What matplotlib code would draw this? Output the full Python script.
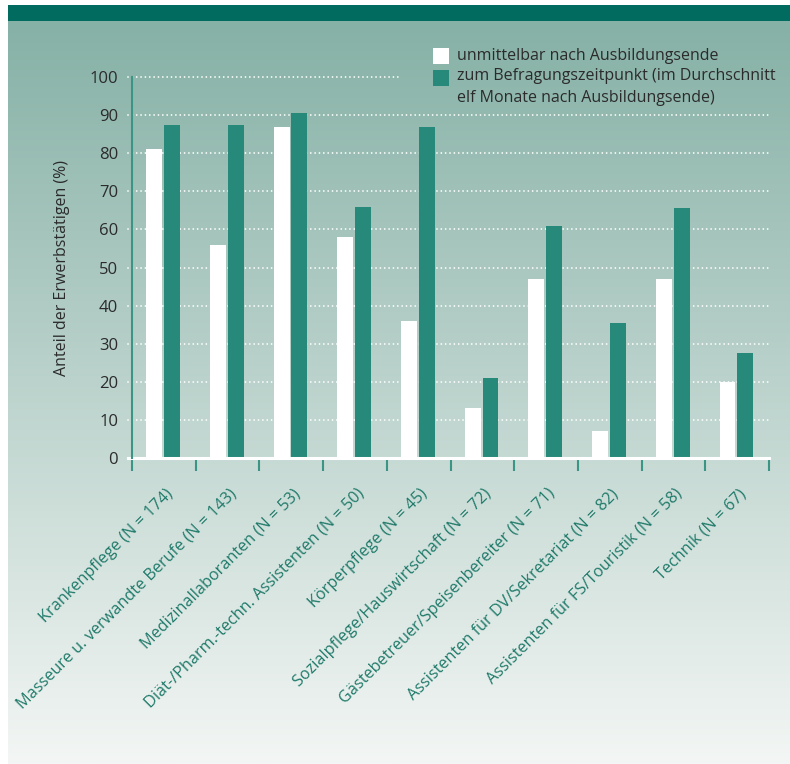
import numpy as np
import matplotlib
matplotlib.use("Agg")
import matplotlib.pyplot as plt
from matplotlib.patches import Rectangle
import matplotlib.transforms as mtransforms

plt.rcParams['font.family'] = ['Open Sans', 'DejaVu Sans']

categories = [
    "Krankenpflege (N = 174)",
    "Masseure u. verwandte Berufe (N = 143)",
    "Medizinallaboranten (N = 53)",
    "Diät-/Pharm.-techn. Assistenten (N = 50)",
    "Körperpflege (N = 45)",
    "Sozialpflege/Hauswirtschaft (N = 72)",
    "Gästebetreuer/Speisenbereiter (N = 71)",
    "Assistenten für DV/Sekretariat (N = 82)",
    "Assistenten für FS/Touristik (N = 58)",
    "Technik (N = 67)",
]
nach_ausbildung = [81, 56, 87, 58, 36, 13, 47, 7, 47, 20]
befragung = [87.5, 87.5, 90.5, 66, 87, 21, 61, 35.5, 65.5, 27.5]
series_labels = ["unmittelbar nach Ausbildungsende",
                 "zum Befragungszeitpunkt (im Durchschnitt\nelf Monate nach Ausbildungsende)"]
yticks = list(range(0, 101, 10))
ylabel = "Anteil der Erwerbstätigen (%)"

W, H = 790, 764
fig = plt.figure(figsize=(W / 100, H / 100), dpi=100)

bar_white = '#ffffff'
bar_teal = '#26897a'
text_dark = '#2b2b2b'

# background gradient panel (pixel coordinates)
bg = fig.add_axes([0, 0, 1, 1], zorder=-10)
top_c = np.array([134, 177, 166]) / 255
bot_c = np.array([243, 246, 244]) / 255
t = np.linspace(0, 1, 256)[:, None, None]
grad = top_c * (1 - t) + bot_c * t
grad = np.repeat(grad, 2, axis=1)
bg.imshow(grad, extent=[8, W, H, 21], aspect='auto', interpolation='bilinear')
bg.add_patch(Rectangle((8, 5), W - 8, 16, color='#006b5e', lw=0))
bg.set_xlim(0, W)
bg.set_ylim(H, 0)
bg.axis('off')

# legend (pixel coordinates on the background layer)
bg.add_patch(Rectangle((433, 48), 16, 16, color=bar_white, lw=0))
bg.add_patch(Rectangle((433, 70), 16, 16, color=bar_teal, lw=0))
bg.text(457, 56, series_labels[0], fontsize=11.5, color=text_dark, va='center', ha='left')
bg.text(457, 68, series_labels[1], fontsize=11.5, color=text_dark, va='top', ha='left',
        linespacing=1.52)

ax = fig.add_axes([132 / W, 1 - 458 / H, (769 - 132) / W, (458 - 77) / H])
ax.patch.set_alpha(0)

x = np.arange(len(categories)) + 0.5
bw = 0.25
gap = 0.03
ax.bar(x - bw / 2 - gap / 2 - 0.012, nach_ausbildung, width=bw, color=bar_white, zorder=3)
ax.bar(x + bw / 2 + gap / 2 - 0.012, befragung, width=bw, color=bar_teal, zorder=3)

ax.set_xlim(0, len(categories))
ax.set_ylim(0, 100)

# gridlines
for yv in yticks[1:]:
    xmax = 0.424 if yv == 100 else 1
    ax.axhline(yv, xmin=-0.006, xmax=xmax, color='white', lw=1.3,
               linestyle=(0, (0.01, 2.4)), dash_capstyle='round', clip_on=False, zorder=1)
ax.axhline(0, xmin=-0.006, xmax=1, color='white', lw=2.2, clip_on=False, zorder=4)

for s in ['top', 'right', 'bottom']:
    ax.spines[s].set_visible(False)
ax.spines['left'].set_color('#3a9585')
ax.spines['left'].set_linewidth(1.5)
ax.spines['left'].set_zorder(5)

ax.set_yticks(yticks)
ax.set_yticklabels([str(v) for v in yticks])
ax.tick_params(axis='y', length=0, pad=10, labelsize=12, labelcolor=text_dark)

ax.set_xticks(np.arange(len(categories) + 1))
ax.set_xticklabels([])
ax.tick_params(axis='x', which='major', length=9, width=1.5, color='#3a9585', direction='out')
ax.set_xticks(x, minor=True)
ax.set_xticklabels(categories, minor=True, rotation=45, ha='right', va='top',
                   rotation_mode='anchor', color='#1f7a6a', fontsize=11.7)
ax.tick_params(axis='x', which='minor', length=0, pad=20)
offset = mtransforms.ScaledTranslation(1 / 100, 0, fig.dpi_scale_trans)
for lab in ax.get_xticklabels(minor=True):
    lab.set_transform(lab.get_transform() + offset)

ax.set_ylabel(ylabel, fontsize=11.5, color=text_dark, labelpad=14)

fig.savefig('out.png', dpi=100)
